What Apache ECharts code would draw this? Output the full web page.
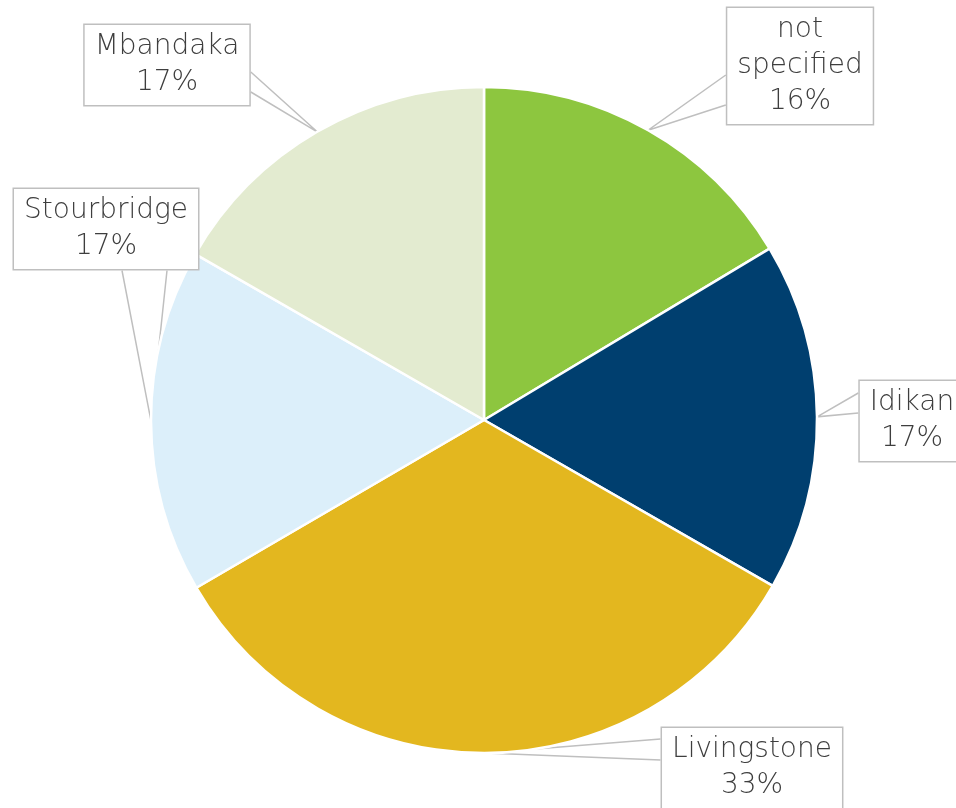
<!DOCTYPE html>
<html>
<head>
<meta charset="utf-8">
<script src="https://cdn.jsdelivr.net/npm/echarts@6/dist/echarts.min.js"></script>
<style>
  html, body { margin: 0; padding: 0; background: #ffffff; }
  #chart { width: 956px; height: 808px; }
</style>
</head>
<body>
<div id="chart"></div>
<script>
// Share of records by location (percent)
const categories = ['not specified', 'Idikan', 'Livingstone', 'Stourbridge', 'Mbandaka'];
const shares = [16.4, 16.9, 33.3, 16.7, 16.7];
const sliceColors = ['#8DC63F', '#003F6F', '#E3B71F', '#DCEFFA', '#E3EBD0'];

// Callout boxes: centre of each label, the box side the pointer leaves from,
// and the two offsets (along that side, from the box centre) of the pointer base
const callouts = [
  { cx: 800, cy: 66,  side: 'left',   o: [9, 39] },
  { cx: 912, cy: 421, side: 'left',   o: [-28, -8] },
  { cx: 752, cy: 768, side: 'left',   o: [-29, -8] },
  { cx: 106, cy: 229, side: 'bottom', o: [16, 61] },
  { cx: 167, cy: 65,  side: 'right',  o: [7, 27] }
];

function pointerBase(c, w, h) {
  if (c.side === 'left') return c.o.map(d => [c.cx - w / 2, c.cy + d]);
  if (c.side === 'right') return c.o.map(d => [c.cx + w / 2, c.cy + d]);
  return c.o.map(d => [c.cx + d, c.cy + h / 2]);
}

const chart = echarts.init(document.getElementById('chart'), null, { renderer: 'canvas' });

chart.setOption({
  backgroundColor: '#ffffff',
  animation: false,
  series: [{
    type: 'pie',
    center: [484, 420],
    radius: 333,
    startAngle: 90,
    clockwise: true,
    avoidLabelOverlap: false,
    itemStyle: { borderColor: '#ffffff', borderWidth: 2.5 },
    label: {
      show: true,
      position: 'outside',
      formatter: p => p.name.replace(' ', '\n') + '\n' + Math.round(p.percent) + '%',
      color: '#3E3E3E',
      fontFamily: '"DejaVu Sans", sans-serif',
      fontWeight: 200,
      fontSize: 28,
      lineHeight: 36,
      align: 'center',
      backgroundColor: '#ffffff',
      borderColor: '#BFBFBF',
      borderWidth: 1.5,
      padding: [6, 10, 2, 10]
    },
    labelLine: {
      show: true,
      length: 10,
      length2: 10,
      lineStyle: { color: '#BFBFBF', width: 1.5 }
    },
    labelLayout: function (params) {
      const c = callouts[params.dataIndex];
      const r = params.labelRect;
      const base = pointerBase(c, r.width, r.height);
      const tip = params.labelLinePoints ? params.labelLinePoints[0] : base[0];
      return {
        x: c.cx,
        y: c.cy,
        align: 'center',
        verticalAlign: 'middle',
        labelLinePoints: [base[0], tip, base[1]]
      };
    },
    data: categories.map((name, i) => ({
      name: name,
      value: shares[i],
      itemStyle: { color: sliceColors[i] }
    }))
  }]
});
</script>
</body>
</html>
